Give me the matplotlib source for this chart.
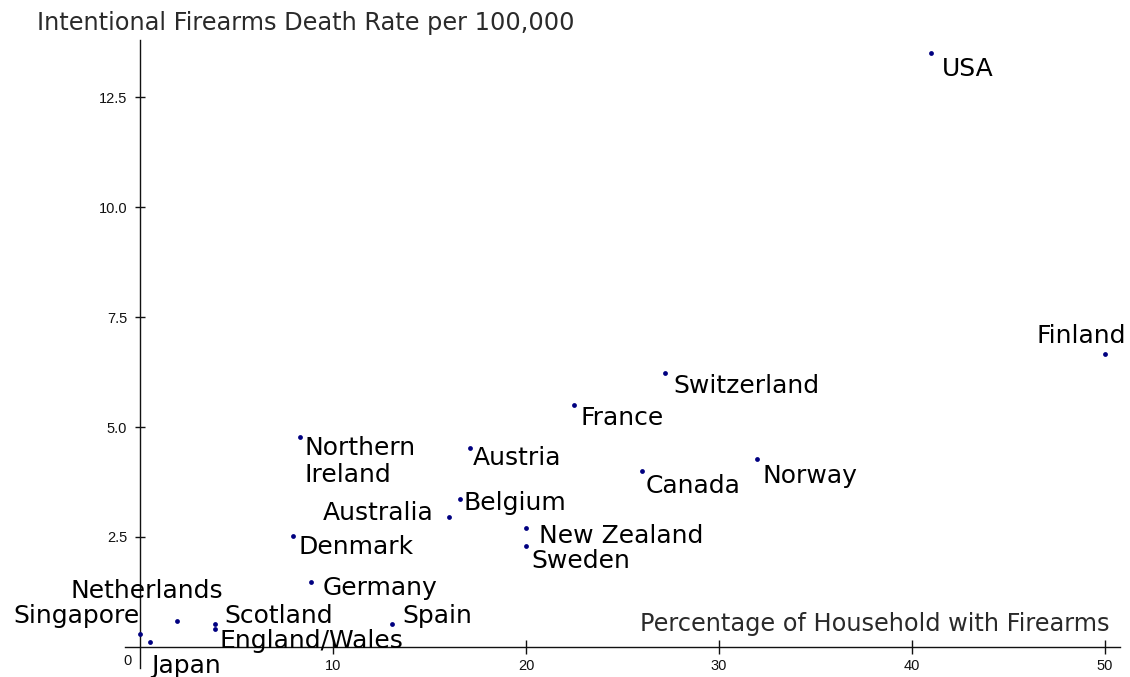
import matplotlib
matplotlib.use("Agg")
from matplotlib import pyplot as plt

# data
countries = ["USA", "Finland", "Switzerland", "France", "Northern\nIreland",
             "Austria", "Canada", "Norway", "Belgium", "Australia",
             "New Zealand", "Sweden", "Denmark", "Germany", "Spain",
             "Scotland", "England/Wales", "Netherlands", "Singapore", "Japan"]
gun_pct = [41.0, 50.0, 27.2, 22.5, 8.3,
           17.1, 26.0, 31.95, 16.6, 16.0,
           20.0, 20.0, 7.9, 8.85, 13.05,
           3.9, 3.9, 1.9, 0.0, 0.5]
death_rate = [13.5, 6.65, 6.22, 5.5, 4.78,
              4.52, 4.0, 4.27, 3.36, 2.96,
              2.70, 2.30, 2.53, 1.48, 0.52,
              0.53, 0.41, 0.59, 0.30, 0.12]
y_ticks = [2.5, 5.0, 7.5, 10.0, 12.5]
x_ticks = [10, 20, 30, 40, 50]

# label placement (pixels right, pixels down from the dot to the last baseline), alignment
label_pos = {
    "USA": (11, 23, "left"), "Finland": (-68, -11, "left"),
    "Switzerland": (8, 20, "left"), "France": (6, 20, "left"),
    "Northern\nIreland": (4, 45, "left"), "Austria": (3, 17, "left"),
    "Canada": (4, 22, "left"), "Norway": (6, 24, "left"),
    "Belgium": (3, 11, "left"), "Australia": (-15, 3, "right"),
    "New Zealand": (13, 15, "left"), "Sweden": (5, 22, "left"),
    "Denmark": (6, 18, "left"), "Germany": (12, 13, "left"),
    "Spain": (10, -1, "left"), "Scotland": (9, -1, "left"),
    "England/Wales": (4, 19, "left"), "Netherlands": (46, -23, "right"),
    "Singapore": (0, -11, "right"), "Japan": (2, 31, "left"),
}

W, H = 1130, 677
fig = plt.figure(figsize=(W / 100, H / 100), dpi=100)
fig.patch.set_facecolor("white")
ax = fig.add_axes([125 / W, (H - 668) / H, 995 / W, 628 / H])
ax.set_xlim(-0.78, 50.78)
ax.set_ylim(-0.48, 13.8)

ax.scatter(gun_pct, death_rate, s=12, color="#000080", zorder=3, linewidths=0)

for name, x, y in zip(countries, gun_pct, death_rate):
    dx, dy, ha = label_pos[name]
    ax.annotate(name, (x, y), xytext=(dx, -dy), textcoords="offset pixels",
                ha=ha, va="baseline", fontsize=18, family="DejaVu Sans",
                color="black", linespacing=1.12)

# axes cross at the origin
for side in ["top", "right"]:
    ax.spines[side].set_visible(False)
ax.spines["left"].set_position(("data", 0))
ax.spines["bottom"].set_position(("data", 0))
for side in ["left", "bottom"]:
    ax.spines[side].set_linewidth(1.0)
    ax.spines[side].set_color("#111111")

ax.set_yticks(y_ticks)
ax.set_yticklabels(["%.1f" % v for v in y_ticks])
ax.set_xticks(x_ticks)
ax.set_xticklabels([str(v) for v in x_ticks])
ax.tick_params(axis="y", direction="inout", length=6.5, width=1, pad=6,
               labelsize=10.5, colors="#111111")
ax.tick_params(axis="x", direction="inout", length=10, width=1, pad=4,
               labelsize=10.5, colors="#111111")
for lab in ax.get_xticklabels() + ax.get_yticklabels():
    lab.set_family("Liberation Sans")
ax.annotate("0", (0, 0), xytext=(-13, -14), textcoords="offset pixels",
            ha="center", va="center", fontsize=10.5, family="Liberation Sans",
            color="#111111")

fig.text(37 / W, 1 - 30 / H, "Intentional Firearms Death Rate per 100,000",
         ha="left", va="baseline", fontsize=17.3, color="#2a2a2a")
fig.text(1109 / W, 1 - 631 / H, "Percentage of Household with Firearms",
         ha="right", va="baseline", fontsize=17.3, color="#2a2a2a")

fig.savefig("out.png", dpi=100)
